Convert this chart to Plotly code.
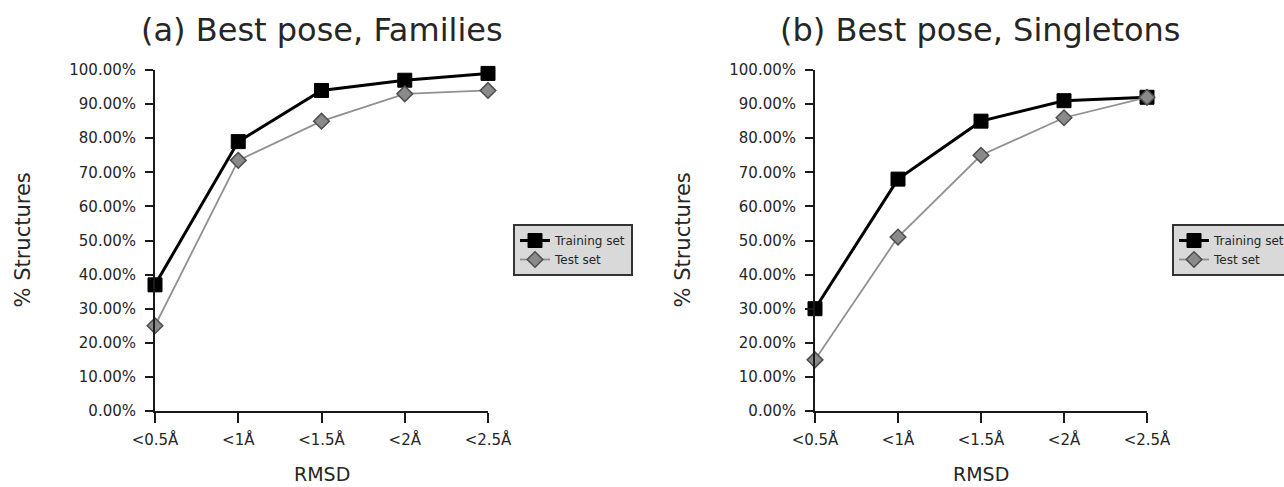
import plotly.graph_objects as go

categories = ["<0.5Å", "<1Å", "<1.5Å", "<2Å", "<2.5Å"]
families_training = [37, 79, 94, 97, 99]
families_test = [25, 73.5, 85, 93, 94]
singletons_training = [30, 68, 85, 91, 92]
singletons_test = [15, 51, 75, 86, 92]
titles = ["(a) Best pose, Families", "(b) Best pose, Singletons"]
series_names = ["Training set", "Test set"]
y_title = "% Structures"
x_title = "RMSD"

W, H = 1284, 487
FONT = "DejaVu Sans"
TXT = "#262626"

fig = go.Figure()

panels = [
    (families_training, families_test, "x", "y", "legend"),
    (singletons_training, singletons_test, "x2", "y2", "legend2"),
]
xs = list(range(len(categories)))
for tr, te, xa, ya, lg in panels:
    fig.add_trace(go.Scatter(
        x=xs, y=[v / 100 for v in tr], xaxis=xa, yaxis=ya, legend=lg,
        name=series_names[0], mode="lines+markers", cliponaxis=False,
        line=dict(color="#000000", width=3),
        marker=dict(symbol="square", size=14, color="#000000",
                    line=dict(color="#000000", width=1)),
    ))
    fig.add_trace(go.Scatter(
        x=xs, y=[v / 100 for v in te], xaxis=xa, yaxis=ya, legend=lg,
        name=series_names[1], mode="lines+markers", cliponaxis=False,
        line=dict(color="#909090", width=1.8),
        marker=dict(symbol="diamond", size=12, color="#8a8a8a",
                    line=dict(color="#4d4d4d", width=1.5)),
    ))

ybot = (H - 411) / H
ytop = (H - 70) / H
doms = [(155 / W, 488 / W), (815 / W, 1147 / W)]

xaxis_common = dict(
    range=[0, len(categories) - 1], tickmode="array", tickvals=xs, ticktext=categories,
    showline=True, linecolor="#1a1a1a", linewidth=2, ticks="outside", ticklen=10,
    tickwidth=2, tickcolor="#1a1a1a", showgrid=False, zeroline=False,
    tickfont=dict(family=FONT, size=15, color=TXT), automargin=False,
    ticklabelstandoff=4,
)
yaxis_common = dict(
    range=[0, 1], dtick=0.1, tickformat=".2%",
    showline=True, linecolor="#1a1a1a", linewidth=2, ticks="outside", ticklen=8,
    tickwidth=2, tickcolor="#1a1a1a", showgrid=False, zeroline=False,
    tickfont=dict(family=FONT, size=15, color=TXT), automargin=False,
    ticklabelstandoff=6,
    domain=[ybot, ytop],
)

legend_common = dict(
    y=(H - 224) / H, xanchor="left", yanchor="top",
    bgcolor="#d9d9d9", bordercolor="#333333", borderwidth=2,
    font=dict(family=FONT, size=12, color=TXT), itemwidth=30,
)

fig.update_layout(
    width=W, height=H,
    margin=dict(l=0, r=0, t=0, b=0, autoexpand=False),
    paper_bgcolor="white", plot_bgcolor="white",
    font=dict(family=FONT, color=TXT),
    xaxis=dict(xaxis_common, domain=doms[0], anchor="y"),
    yaxis=dict(yaxis_common, anchor="x"),
    xaxis2=dict(xaxis_common, domain=doms[1], anchor="y2"),
    yaxis2=dict(yaxis_common, anchor="x2"),
    legend=dict(legend_common, x=513 / W),
    legend2=dict(legend_common, x=1172 / W),
)

annotations = []
for i, (d0, d1) in enumerate(doms):
    cx = (d0 + d1) / 2
    annotations.append(dict(text=titles[i], x=cx, y=(H - 30) / H, xref="paper", yref="paper",
                            xanchor="center", yanchor="middle", showarrow=False,
                            font=dict(family=FONT, size=32, color=TXT)))
    annotations.append(dict(text=x_title, x=cx, y=(H - 474) / H, xref="paper", yref="paper",
                            xanchor="center", yanchor="middle", showarrow=False,
                            font=dict(family=FONT, size=19, color=TXT)))
    annotations.append(dict(text=y_title, x=(d0 * W - 132) / W, y=(ybot + ytop) / 2,
                            xref="paper", yref="paper", textangle=-90,
                            xanchor="center", yanchor="middle", showarrow=False,
                            font=dict(family=FONT, size=21, color=TXT)))
fig.update_layout(annotations=annotations)

fig.write_html(
    "out.html",
    config={"displayModeBar": False},
    post_script="document.body.style.margin='0';document.body.style.overflow='hidden';",
)
